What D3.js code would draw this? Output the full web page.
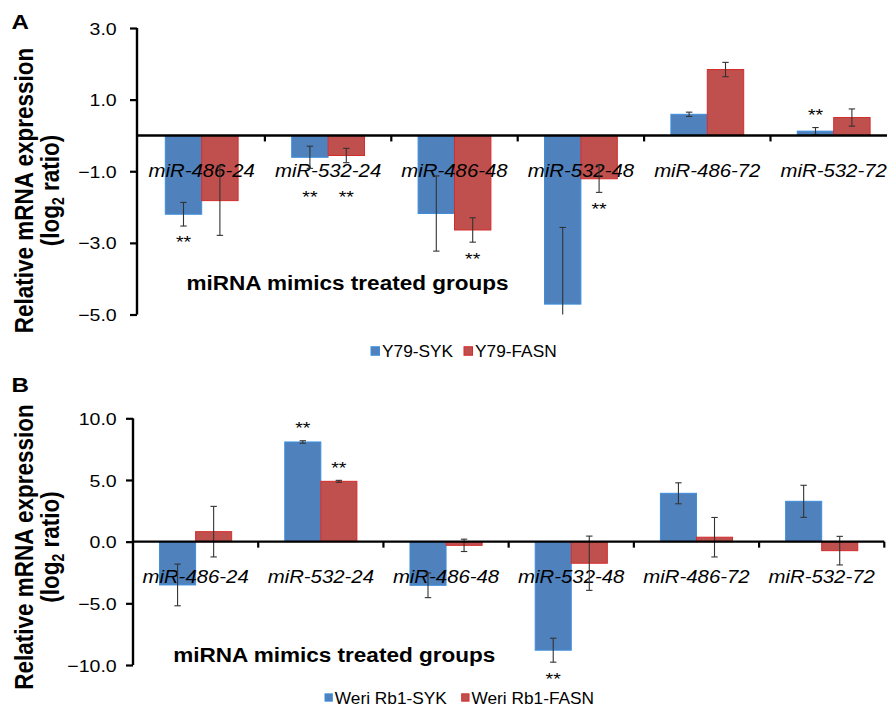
<!DOCTYPE html>
<html><head><meta charset="utf-8">
<script src="https://cdn.jsdelivr.net/npm/d3@7"></script>
<style>
body{margin:0;background:#fff}
svg{display:block;font-family:"Liberation Sans",Arial,Helvetica,sans-serif}
</style>
</head><body>
<svg id="c" width="887" height="707"></svg>
<script>
// ---------------- data ----------------
const categories = ["miR-486-24","miR-532-24","miR-486-48","miR-532-48","miR-486-72","miR-532-72"];

const seriesA = ["Y79-SYK","Y79-FASN"];
const a_syk      = [-2.20, -0.61, -2.18, -4.71, 0.59, 0.12];
const a_syk_err  = [ 0.33,  0.31,  1.05,  2.14, 0.06, 0.10];
const a_fasn     = [-1.82, -0.56, -2.64, -1.21, 1.84, 0.50];
const a_fasn_err = [ 0.97,  0.20,  0.34,  0.38, 0.20, 0.24];
const a_sig_syk  = [1,1,0,0,0,1];
const a_sig_fasn = [0,1,1,1,0,0];
const ticksA = [3, 1, -1, -3, -5];

const seriesB = ["Weri Rb1-SYK","Weri Rb1-FASN"];
const b_syk      = [-3.51, 8.08, -3.54, -8.80, 3.92,  3.27];
const b_syk_err  = [ 1.69, 0.10,  1.00,  0.97, 0.85,  1.30];
const b_fasn     = [ 0.81, 4.89, -0.30, -1.75, 0.36, -0.73];
const b_fasn_err = [ 2.05, 0.08,  0.50,  2.20, 1.60,  1.16];
const b_sig_syk  = [0,1,0,1,0,0];
const b_sig_fasn = [0,1,0,0,0,0];
const ticksB = [10, 5, 0, -5, -10];

const colors = ["#4F81BD", "#C0504D"];
const strokes = ["#3D8FDD", "#D42C2C"];
const xTitle = "miRNA mimics treated groups";
// ---------------- drawing ----------------
const SX = 1.15;
const svg = d3.select("#c");
const fmt = d3.format(".1f");

function sText(g, x, y, str, size, anchor, weight, style) {
  return g.append("text")
    .attr("transform", `translate(${x},${y}) scale(${SX},1)`)
    .attr("font-size", size)
    .attr("text-anchor", anchor || "start")
    .attr("font-weight", weight || "normal")
    .attr("font-style", style || "normal")
    .attr("fill", "#000")
    .text(str);
}

function panel(cfg) {
  const g = svg.append("g");
  const y = d3.scaleLinear().domain(cfg.domain).range([cfg.yBottom, cfg.yTop]);
  const x = d3.scaleBand().domain(categories).range([cfg.x0, cfg.x1]);
  const bw = x.bandwidth();
  const xs = d3.scaleBand().domain([0, 1]).range([-bw * 0.288, bw * 0.288]);
  const y0 = y(0);
  const series = [
    {vals: cfg.v1, err: cfg.e1, sig: cfg.s1},
    {vals: cfg.v2, err: cfg.e2, sig: cfg.s2}
  ];

  // bars
  series.forEach((s, si) => {
    g.selectAll(null).data(categories).enter().append("rect")
      .attr("x", (c) => x(c) + bw / 2 + xs(si))
      .attr("width", xs.bandwidth())
      .attr("y", (c, i) => Math.min(y(s.vals[i]), y0))
      .attr("height", (c, i) => Math.abs(y(s.vals[i]) - y0))
      .attr("fill", colors[si])
      .attr("stroke", strokes[si])
      .attr("stroke-width", 1);
  });

  // category labels
  categories.forEach((c) => {
    sText(g, x(c) + bw / 2, y0 + cfg.labelDy, c, 17.7, "middle", "normal", "italic");
  });

  // error bars
  const [dmin, dmax] = cfg.domain;
  series.forEach((s, si) => {
    categories.forEach((c, i) => {
      const cx = x(c) + bw / 2 + xs(si) + xs.bandwidth() / 2;
      const hi = s.vals[i] + s.err[i], lo = s.vals[i] - s.err[i];
      const yh = y(Math.min(hi, dmax)), yl = y(Math.max(lo, dmin));
      g.append("line").attr("x1", cx).attr("x2", cx).attr("y1", yh).attr("y2", yl)
        .attr("stroke", "#333").attr("stroke-width", 1.1);
      if (hi <= dmax) g.append("line").attr("x1", cx - 3.2).attr("x2", cx + 3.2).attr("y1", yh).attr("y2", yh)
        .attr("stroke", "#333").attr("stroke-width", 1.1);
      if (lo >= dmin) g.append("line").attr("x1", cx - 3.2).attr("x2", cx + 3.2).attr("y1", yl).attr("y2", yl)
        .attr("stroke", "#333").attr("stroke-width", 1.1);
      if (s.sig[i]) {
        const fs = 17;
        let cy;
        if (s.vals[i] < 0) cy = Math.max(y(lo) + 13, y0 + cfg.labelDy + 17);
        else cy = y(hi) - 16;
        sText(g, cx, cy + 0.55 * fs, "**", fs, "middle");
      }
    });
  });

  // x axis line + boundary ticks
  g.append("line").attr("x1", cfg.axisX).attr("x2", cfg.x1).attr("y1", y0).attr("y2", y0)
    .attr("stroke", "#000").attr("stroke-width", 2.4);
  const bounds = categories.slice(1).map((c) => x(c)).concat([x.range()[1]]);
  g.selectAll(null).data(bounds).enter().append("line")
    .attr("x1", (d) => d).attr("x2", (d) => d)
    .attr("y1", y0).attr("y2", y0 + 6)
    .attr("stroke", "#000").attr("stroke-width", 2.2);

  // y axis
  const ax = g.append("g").attr("transform", `translate(${cfg.axisX},0)`)
    .call(d3.axisLeft(y).tickValues(cfg.ticks).tickSize(7).tickFormat(fmt).tickSizeOuter(0));
  ax.select(".domain").attr("stroke", "#000").attr("stroke-width", 2.4)
    .attr("d", `M0,${y(dmax)}V${y(dmin)}`);
  ax.selectAll(".tick line").attr("stroke", "#000").attr("stroke-width", 2.2);
  ax.selectAll(".tick text")
    .attr("x", null).attr("dy", null)
    .attr("transform", `translate(${116.7 - cfg.axisX},6.1) scale(${SX},1)`)
    .attr("font-size", 17).attr("fill", "#000")
    .attr("font-family", '"Liberation Sans",Arial,sans-serif')
    .attr("text-anchor", "end");

  // panel letter
  g.append("text").attr("transform", `translate(11.5,${cfg.letterY}) scale(${SX},1)`)
    .attr("font-size", 21).attr("font-weight", "bold").text(cfg.letter);

  // y title
  const yc = cfg.titleY;
  const t1 = g.append("text")
    .attr("transform", `translate(33,${yc}) scale(${SX},1) rotate(-90)`)
    .attr("font-size", 22.5).attr("font-weight", "bold").attr("text-anchor", "middle")
    .text("Relative mRNA expression");
  const t2 = g.append("text")
    .attr("transform", `translate(58.5,${yc}) scale(${SX},1) rotate(-90)`)
    .attr("font-size", 22.5).attr("font-weight", "bold").attr("text-anchor", "middle");
  t2.append("tspan").text("(log");
  t2.append("tspan").attr("font-size", 14).attr("dy", 5).text("2");
  t2.append("tspan").attr("dy", -5).text(" ratio)");

  // x title
  sText(g, cfg.xTitleX, cfg.xTitleY, xTitle, 19.6, "middle", "bold");

  // legend
  const names = cfg.names;
  names.forEach((n, i) => {
    const lx = cfg.legendX[i];
    g.append("rect").attr("x", lx).attr("y", cfg.legendY - cfg.sq / 2)
      .attr("width", cfg.sq).attr("height", cfg.sq)
      .attr("fill", colors[i]).attr("stroke", strokes[i]).attr("stroke-width", 1);
    g.append("text").attr("x", lx + cfg.sq + 2.5).attr("y", cfg.legendY + 6)
      .attr("font-size", 17.3).attr("fill", "#000").text(n);
  });
}

panel({
  domain: [-5, 3], yBottom: 314.5, yTop: 28, x0: 138.5, x1: 896.9, axisX: 137,
  v1: a_syk, e1: a_syk_err, s1: a_sig_syk, v2: a_fasn, e2: a_fasn_err, s2: a_sig_fasn,
  ticks: ticksA, labelDy: 41.5, letter: "A", letterY: 28.5, titleY: 190.5,
  xTitleX: 347.5, xTitleY: 289.5,
  names: seriesA, legendX: [371, 464], legendY: 351, sq: 8.5
});
panel({
  domain: [-10, 10], yBottom: 665, yTop: 418.3, x0: 133, x1: 884.3, axisX: 133,
  v1: b_syk, e1: b_syk_err, s1: b_sig_syk, v2: b_fasn, e2: b_fasn_err, s2: b_sig_fasn,
  ticks: ticksB, labelDy: 41, letter: "B", letterY: 392, titleY: 547,
  xTitleX: 334.2, xTitleY: 661.7,
  names: seriesB, legendX: [325, 461.7], legendY: 697.5, sq: 7.3
});
</script>
</body></html>
